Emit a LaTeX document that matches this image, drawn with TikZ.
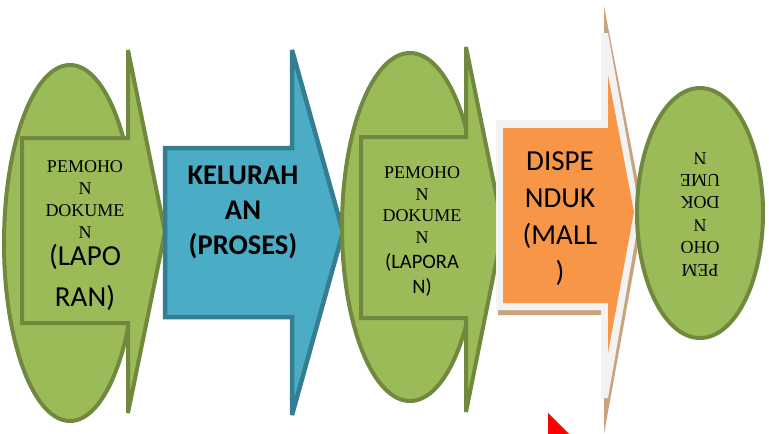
\documentclass[tikz,border=0pt]{standalone}
\usepackage{fontspec}
\setmainfont{Carlito}
\newfontfamily\timesfont{Liberation Serif}
\usepackage{tikz}
\usetikzlibrary{positioning}
\usepackage{xcolor}
\definecolor{leaf}{HTML}{9BBB59}
\definecolor{leafline}{HTML}{71893F}
\definecolor{sea}{HTML}{4BACC6}
\definecolor{sealine}{HTML}{357D91}
\definecolor{mallorange}{HTML}{F79646}
\definecolor{glow}{HTML}{F2F2F2}
\definecolor{tanshadow}{HTML}{C9A27E}

\begin{document}
\begin{tikzpicture}[x=1pt,y=-1pt,line join=miter,miter limit=4]
    \tikzstyle{greenshape}=[fill=leaf,draw=leafline,line width=4pt]
    \tikzstyle{blueshape}=[fill=sea,draw=sealine,line width=4.5pt]
    \tikzstyle{txt}=[inner sep=0pt,align=center,text=black]
    \tikzstyle{seriftxt}=[txt,font=\timesfont\fontsize{18}{21.8}\selectfont]

    \path[use as bounding box] (0,0) rectangle (769,434);

    % pemohon (1)
    \draw[greenshape] (70,243) ellipse [x radius=66,y radius=178];
    \draw[greenshape] (22,138) -- (128,138) -- (128,50) -- (165,232)
        -- (128,413) -- (128,323) -- (22,323) -- cycle;
    \node[seriftxt] (pemohon1) at (85,199.5) {PEMOHO\\N\\DOKUME\\N};
    \node[txt,font=\fontsize{29}{41}\selectfont] (laporan1) at (85,277) {(LAPO\\RAN)};

    % kelurahan
    \draw[blueshape] (165,148) -- (292,148) -- (292,50) -- (343,232)
        -- (292,415) -- (292,317) -- (165,317) -- cycle;
    \node[txt,font=\bfseries\fontsize{28.5}{35}\selectfont] (kelurahan) at (243,212) {KELURAH\\AN\\(PROSES)};

    % pemohon (2)
    \draw[greenshape] (410,227) ellipse [x radius=68,y radius=174];
    \draw[greenshape] (361,137) -- (466,137) -- (466,47) -- (503,228)
        -- (466,412) -- (466,318) -- (361,318) -- cycle;
    \node[seriftxt] (pemohon2) at (422,205) {PEMOHO\\N\\DOKUME\\N};
    \node[txt,font=\fontsize{20.5}{25}\selectfont] (laporan2) at (422,275) {(LAPORA\\N)};

    % dispenduk
    \fill[tanshadow] (498,124) -- (604,124) -- (604,6) -- (644,213)
        -- (604,434) -- (604,315) -- (498,315) -- cycle;
    \fill[glow] (496,120) -- (601,120) -- (601,33) -- (608,33) -- (640,213)
        -- (608,398) -- (601,398) -- (601,310) -- (496,310) -- cycle;
    \fill[mallorange] (503,128) -- (608,128) -- (608,75) -- (634,212)
        -- (608,353) -- (608,303) -- (503,303) -- cycle;
    \node[txt,font=\fontsize{29}{37}\selectfont] (dispenduk) at (560,219) {DISPE\\NDUK\\(MALL\\)};

    % pemohon (3)
    \draw[greenshape] (700,213) ellipse [x radius=63,y radius=125];
    \node[seriftxt,rotate=180,font=\timesfont\fontsize{18}{22.4}\selectfont] (pemohon3) at (700,214) {PEM\\OHO\\N\\DOK\\UME\\N};

    \fill[red] (548,413) -- (569,434) -- (548,434) -- cycle;
\end{tikzpicture}
\end{document}
